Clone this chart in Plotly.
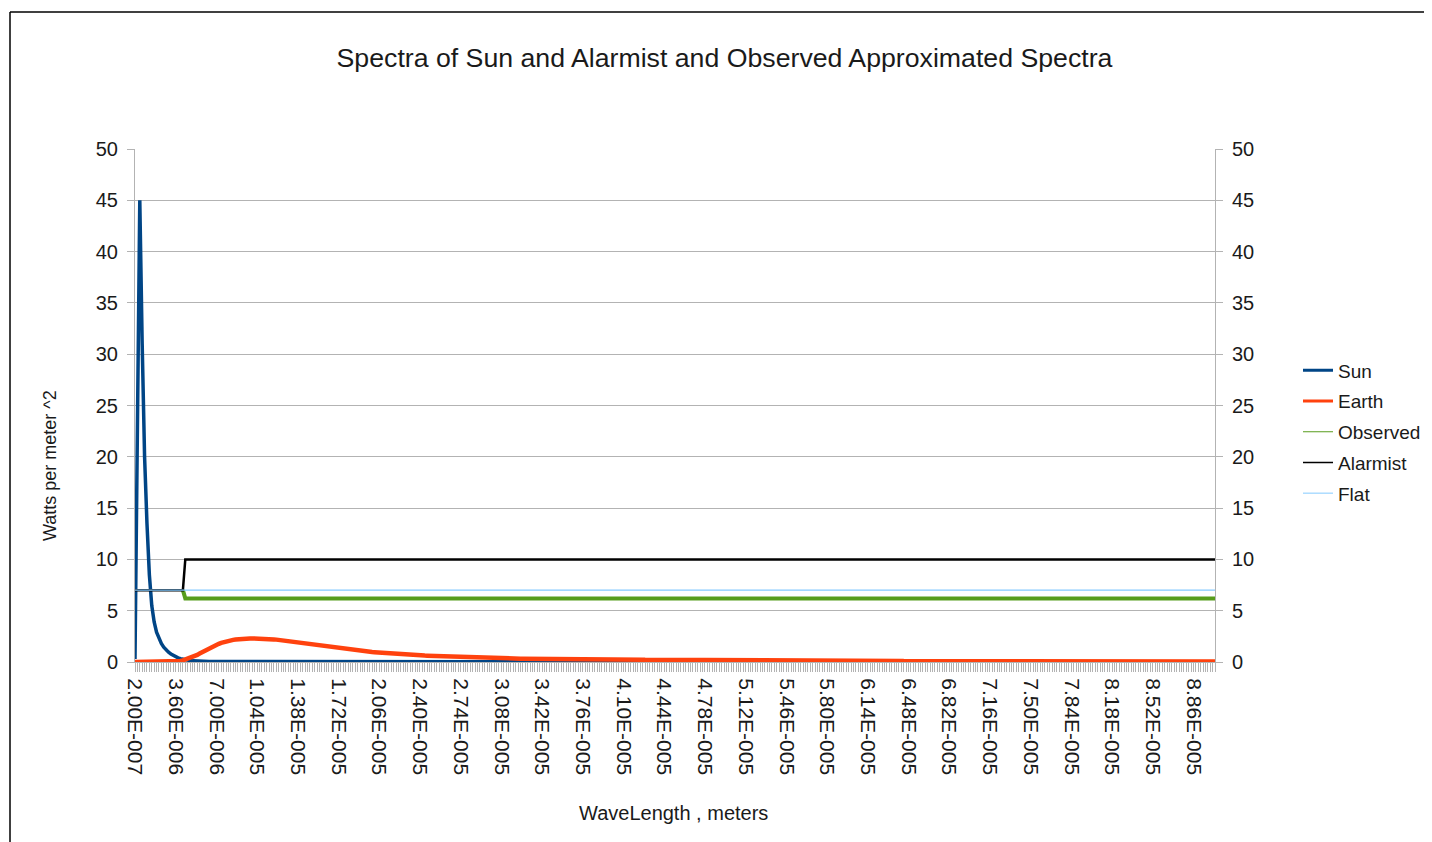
import plotly.graph_objects as go

# ---- data ----
# categories: wavelength in metres, 0.2 µm steps starting at 2.00E-007
wavelength = [round((i + 1) * 2e-7, 12) for i in range(452)]

tick_labels = ["2.00E-007", "3.60E-006", "7.00E-006", "1.04E-005", "1.38E-005",
               "1.72E-005", "2.06E-005", "2.40E-005", "2.74E-005", "3.08E-005",
               "3.42E-005", "3.76E-005", "4.10E-005", "4.44E-005", "4.78E-005",
               "5.12E-005", "5.46E-005", "5.80E-005", "6.14E-005", "6.48E-005",
               "6.82E-005", "7.16E-005", "7.50E-005", "7.84E-005", "8.18E-005",
               "8.52E-005", "8.86E-005"]

sun = ([0.3, 24, 45, 31, 20, 13.5, 8.5, 5.5, 3.9, 2.9,
        2.3, 1.8, 1.45, 1.15, 0.95, 0.78, 0.63, 0.5, 0.4, 0.32,
        0.26, 0.21, 0.17, 0.14, 0.11, 0.09, 0.08, 0.07, 0.06, 0.05,
        0.05]
       + [0.04] * 5 + [0.03] * 10 + [0.02] * 25 + [0.01] * 80 + [0.0] * 122)

earth = ([0, 0, 0, 0, 0, 0, 0, 0, 0, 0,
          0, 0, 0, 0, 0, 0, 0, 0.02, 0.05, 0.1,
          0.16, 0.23, 0.31, 0.39, 0.47, 0.56, 0.69, 0.82, 0.95, 1.08,
          1.21, 1.34, 1.46, 1.58, 1.68, 1.77, 1.86, 1.94, 2.01, 2.07,
          2.12, 2.16, 2.2, 2.23, 2.25, 2.27, 2.28, 2.29, 2.3, 2.3,
          2.3, 2.3, 2.3, 2.3, 2.29, 2.27, 2.25, 2.23, 2.2, 2.18,
          2.15, 2.12, 2.08, 2.04, 2.0, 1.97, 1.93, 1.9, 1.86, 1.83,
          1.8, 1.76, 1.72, 1.68, 1.64, 1.6, 1.56, 1.53, 1.51, 1.48,
          1.46, 1.43, 1.41, 1.38, 1.35, 1.32, 1.29, 1.27, 1.24, 1.21,
          1.19, 1.16, 1.13, 1.11, 1.09, 1.06, 1.04, 1.02, 0.99, 0.97,
          0.95, 0.93, 0.91, 0.9, 0.88, 0.86, 0.85, 0.83, 0.81, 0.8,
          0.78, 0.77, 0.75, 0.74, 0.72, 0.71, 0.7, 0.68, 0.67, 0.65,
          0.64, 0.63, 0.62, 0.61, 0.59, 0.58, 0.57, 0.56, 0.55, 0.53,
          0.52, 0.51, 0.5, 0.5, 0.49, 0.48, 0.47, 0.46, 0.45, 0.44,
          0.43, 0.42, 0.42, 0.41, 0.41, 0.4, 0.39, 0.39, 0.38, 0.38,
          0.37, 0.37, 0.36, 0.36, 0.35, 0.35, 0.34, 0.34, 0.33, 0.33,
          0.33, 0.32, 0.32, 0.32, 0.31, 0.31, 0.31, 0.3, 0.3, 0.3,
          0.3, 0.3, 0.29, 0.29, 0.29, 0.29, 0.28, 0.28, 0.28, 0.28,
          0.27, 0.27, 0.27, 0.27, 0.26, 0.26, 0.26, 0.26, 0.25, 0.25,
          0.25, 0.25, 0.25, 0.25, 0.25, 0.24, 0.24, 0.24, 0.24, 0.24,
          0.24, 0.24, 0.23, 0.23, 0.23, 0.23, 0.23, 0.22, 0.22, 0.22,
          0.22, 0.22, 0.22, 0.21, 0.21, 0.21, 0.21, 0.21, 0.21, 0.21]
         + [0.2] * 12 + [0.19] * 10 + [0.18] * 8 + [0.17] * 8 + [0.16] * 8
         + [0.15] * 8 + [0.14] * 7 + [0.13] * 7 + [0.12] * 9 + [0.11] * 10
         + [0.1] * 14 + [0.09] * 15 + [0.08] * 20 + [0.07] * 25 + [0.06] * 30
         + [0.05] * 41)

observed = [None] * 20 + [7.0] + [6.2] * 431
alarmist = [7.0] * 21 + [10.0] * 431
flat = [7.0] * 452

series_names = ["Sun", "Earth", "Observed", "Alarmist", "Flat"]
y_ticks = [0, 5, 10, 15, 20, 25, 30, 35, 40, 45, 50]

# ---- styles ----
colors = ["#004586", "#ff420e", "#579d1c", "#000000", "#83caff"]
widths = [3.5, 4.5, 4, 2.5, 1.2]
legend_widths = [3, 3, 1.2, 1.5, 1]
FONT = "Liberation Sans, Arial, sans-serif"
GRID = "#b3b3b3"
TXT = "#1a1a1a"

# page has an 8px body margin: figure coords = reference coords - 8
OFF = 8
PL, PR, PT, PB = 135 - OFF, 1215 - OFF, 149 - OFF, 662 - OFF   # plot area in figure px
W, H = 1432, 842


def px(x):
    return (x - OFF - PL) / (PR - PL)


def py(y):
    return (PB - (y - OFF)) / (PB - PT)


fig = go.Figure()
for name, ys, col, w in zip(series_names, [sun, earth, observed, alarmist, flat], colors, widths):
    fig.add_trace(go.Scatter(
        x=wavelength[:len(ys)], y=ys, mode="lines", name=name,
        line=dict(color=col, width=w), showlegend=False,
        yaxis="y2" if name == "Flat" else "y",
    ))
# legend entries (thin sample lines like the original legend)
for name, col, lw in zip(series_names, colors, legend_widths):
    fig.add_trace(go.Scatter(
        x=[None], y=[None], mode="lines", name=name, legendgroup=name,
        line=dict(color=col, width=lw), showlegend=True,
    ))

axis_common = dict(range=[0, 50], tickmode="array", tickvals=y_ticks,
                   showline=True, linecolor=GRID, linewidth=1,
                   ticks="outside", ticklen=7, tickcolor=GRID,
                   tickfont=dict(size=20, color=TXT, family=FONT),
                   zeroline=False, fixedrange=True)

fig.update_layout(
    width=W, height=H,
    margin=dict(l=PL, r=W - PR, t=PT, b=H - PB),
    paper_bgcolor="white", plot_bgcolor="white",
    template="none",
    font=dict(family=FONT, color=TXT),
    title=dict(text="Spectra of Sun and Alarmist and Observed Approximated Spectra",
               x=(724.5 - OFF) / W, xanchor="center", y=1 - (58 - OFF) / H, yanchor="middle",
               font=dict(size=26.7, color=TXT, family=FONT)),
    xaxis=dict(range=[wavelength[0], wavelength[-1]], tickmode="array",
               tickvals=wavelength[::17][:len(tick_labels)], ticktext=tick_labels,
               tickangle=90, ticks="outside", ticklen=9, tickcolor=GRID,
               ticklabelstandoff=2,
               tickfont=dict(size=21, color=TXT, family=FONT),
               minor=dict(tickmode="linear", tick0=wavelength[0], dtick=2e-7,
                          ticks="outside", ticklen=9, tickcolor=GRID, showgrid=False),
               showgrid=False, showline=True, linecolor=GRID, zeroline=False),
    yaxis=dict(**axis_common, side="left", showgrid=True, gridcolor=GRID,
               gridwidth=1, ticklabelstandoff=5),
    yaxis2=dict(**axis_common, side="right", overlaying="y", showgrid=False,
                ticklabelstandoff=5),
    legend=dict(x=px(1298), xanchor="left", y=py(432),
                yanchor="middle", font=dict(size=19, color=TXT, family=FONT),
                itemwidth=30, traceorder="grouped", tracegroupgap=3,
                bgcolor="rgba(0,0,0,0)", borderwidth=0),
    showlegend=True,
    annotations=[
        dict(text="Watts per meter ^2", xref="paper", yref="paper",
             x=px(50), y=py(466), textangle=-90,
             showarrow=False, xanchor="center", yanchor="middle",
             font=dict(size=18, color=TXT, family=FONT)),
        dict(text="WaveLength , meters", xref="paper", yref="paper",
             x=px(673), y=py(813), showarrow=False,
             xanchor="center", yanchor="middle",
             font=dict(size=20, color=TXT, family=FONT)),
    ],
    shapes=[
        dict(type="line", xref="paper", yref="paper",
             x0=px(10), x1=px(1460), y0=py(12), y1=py(12),
             line=dict(color="#000", width=1.5)),
        dict(type="line", xref="paper", yref="paper",
             x0=px(10), x1=px(10), y0=py(12), y1=py(870),
             line=dict(color="#000", width=1.5)),
    ],
)

fig.write_html("out.html")
